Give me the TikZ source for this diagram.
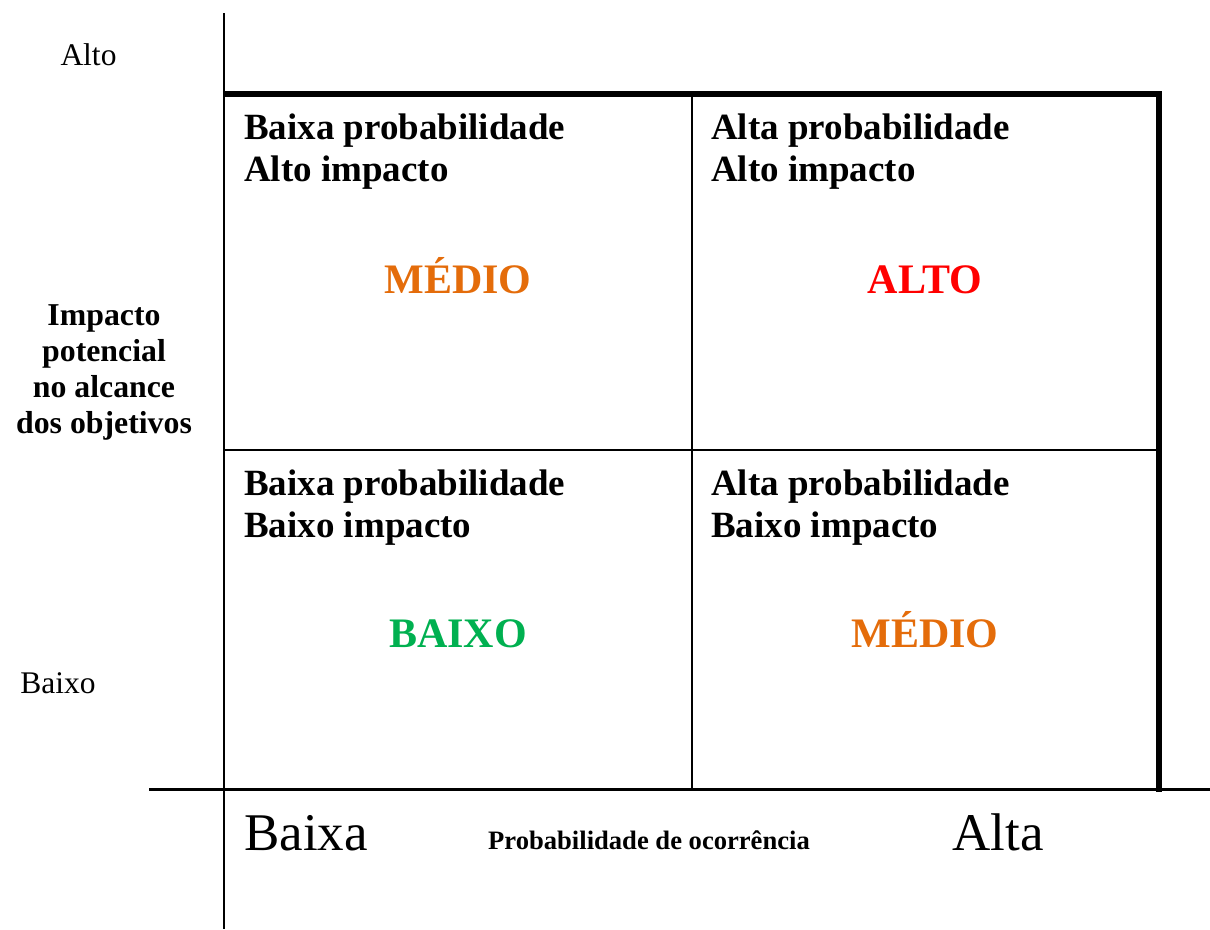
\documentclass[tikz,border=0pt]{standalone}
\usepackage{fontspec}
\setmainfont{Liberation Serif}
\usetikzlibrary{positioning}
\definecolor{riskorange}{RGB}{228, 108, 10}
\definecolor{riskred}{RGB}{255, 0, 0}
\definecolor{riskgreen}{RGB}{0, 176, 80}

\begin{document}
\begin{tikzpicture}[x=1pt, y=-1pt,
        thinline/.style={line width=2.5pt},
        thickline/.style={line width=5.5pt},
        celltext/.style={anchor=base west, inner sep=0pt, font=\fontsize{37}{42}\selectfont\bfseries},
        leveltext/.style={anchor=base, inner sep=0pt, font=\fontsize{42}{48}\selectfont\bfseries},
        axistext/.style={anchor=base, inner sep=0pt, font=\fontsize{31.5}{36}\selectfont},
        bigtext/.style={anchor=base, inner sep=0pt, font=\fontsize{53}{60}\selectfont}]
    \useasboundingbox (0, 0) rectangle (1210, 929);

    % grid corners
    \coordinate (axtop) at (224, 13);
    \coordinate (axbot) at (224, 929);
    \coordinate (xleft) at (149, 789.5);
    \coordinate (xright) at (1210, 789.5);
    \coordinate (tl) at (224, 94);
    \coordinate (tr) at (1159, 94);
    \coordinate (br) at (1159, 792);
    \coordinate (mtop) at (692, 94);
    \coordinate (mbot) at (692, 789.5);
    \coordinate (ml) at (224, 450);
    \coordinate (mr) at (1159, 450);

    % axes and cells
    \draw[thinline] (axtop) -- (axbot);
    \draw[thinline] (xleft) -- (xright);
    \draw[thickline] ([xshift=-1.25pt]tl) -- ([xshift=2.75pt]tr);
    \draw[thickline] (tr) -- (br);
    \draw[thinline] (mtop) -- (mbot);
    \draw[thinline] (ml) -- (mr);

    % quadrant texts
    \node[celltext] (q1a) at (244, 139) {Baixa probabilidade};
    \node[celltext] (q1b) at (244, 181) {Alto impacto};
    \node[celltext] (q2a) at (711, 139) {Alta probabilidade};
    \node[celltext] (q2b) at (711, 181) {Alto impacto};
    \node[celltext] (q3a) at (244, 495) {Baixa probabilidade};
    \node[celltext] (q3b) at (244, 537) {Baixo impacto};
    \node[celltext] (q4a) at (711, 495) {Alta probabilidade};
    \node[celltext] (q4b) at (711, 537) {Baixo impacto};

    \node[leveltext, text=riskorange] (lvl1) at (458, 293) {MÉDIO};
    \node[leveltext, text=riskred] (lvl2) at (925, 293) {ALTO};
    \node[leveltext, text=riskgreen] (lvl3) at (458, 647) {BAIXO};
    \node[leveltext, text=riskorange] (lvl4) at (925, 647) {MÉDIO};

    % vertical axis labels
    \node[axistext] (yhigh) at (88.5, 65) {Alto};
    \node[axistext] (ylow) at (58, 693) {Baixo};
    \node[axistext, anchor=base, align=center, font=\fontsize{31.8}{36}\selectfont\bfseries] (ytitle) at (104, 433)
        {Impacto\\potencial\\no alcance\\dos objetivos};

    % horizontal axis labels
    \node[bigtext] (xlow) at (306, 850) {Baixa};
    \node[bigtext] (xhigh) at (998, 850) {Alta};
    \node[anchor=base west, inner sep=0pt, font=\fontsize{26.6}{30}\selectfont\bfseries] (xtitle) at (488, 849)
        {Probabilidade de ocorrência};
\end{tikzpicture}
\end{document}
